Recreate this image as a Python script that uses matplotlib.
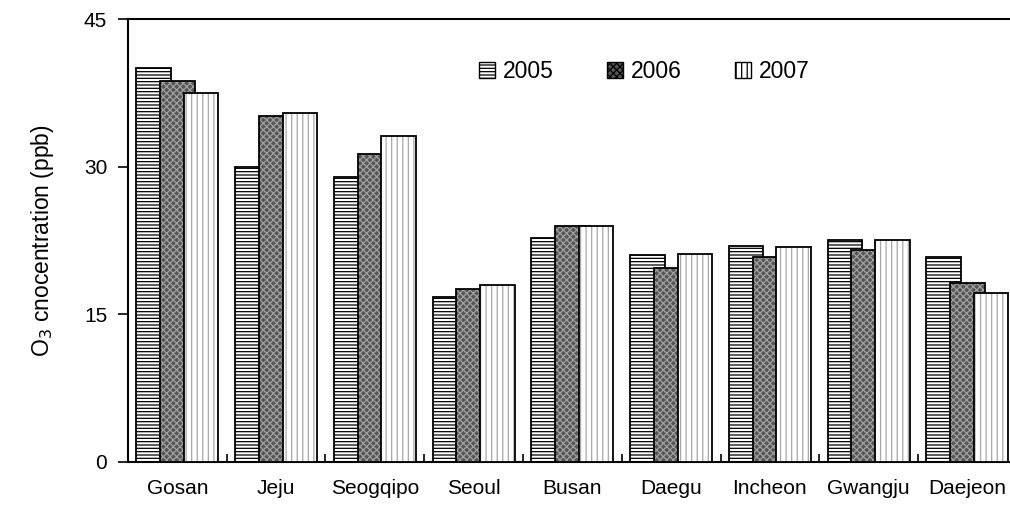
import numpy as np
import matplotlib
matplotlib.use("Agg")
from matplotlib import pyplot as plt

# site names and mean O3 per year (ppb)
sites = ["Gosan", "Jeju", "Seogqipo", "Seoul", "Busan", "Daegu", "Incheon", "Gwangju", "Daejeon"]
years = ["2005", "2006", "2007"]
o3_2005 = [40.0, 30.0, 28.9, 16.8, 22.8, 21.0, 21.9, 22.5, 20.8]
o3_2006 = [38.7, 35.1, 31.3, 17.6, 24.0, 19.7, 20.8, 21.5, 18.2]
o3_2007 = [37.5, 35.5, 33.1, 18.0, 24.0, 21.1, 21.8, 22.6, 17.2]

plt.rcParams['font.family'] = ['Liberation Sans', 'DejaVu Sans']
plt.rcParams['hatch.linewidth'] = 0.9

fig = plt.figure(figsize=(10.1, 5.07), dpi=100)
ax = fig.add_axes([0.1267, 0.0888, 0.880, 0.8737])

x = np.arange(len(sites))
w = 0.35
off = 0.24

# fill style per year: face, hatch, hatch colour
styles = [
    ("white", "-----", "black"),
    ("#555555", "xxxxx", "#a0a0a0"),
    ("white", "|||", "#a8a8a8"),
]

handles = []
for i, (vals, (fc, hatch, hc)) in enumerate(zip([o3_2005, o3_2006, o3_2007], styles)):
    pos = x + (i - 1) * off
    ax.bar(pos, vals, w, color=fc, hatch=hatch, edgecolor=hc, linewidth=0, zorder=2 + i)
    ax.bar(pos, vals, w, fill=False, edgecolor="black", linewidth=1.3, zorder=2 + i)
    handles.append(plt.Rectangle((0, 0), 1, 1, facecolor=fc, hatch=hatch,
                                 edgecolor="black", linewidth=1.0))

ax.set_xlim(-0.5, len(sites) - 0.5)
ax.set_ylim(0, 45)
ax.set_yticks([0, 15, 30, 45])
ax.tick_params(axis="y", direction="out", length=7, width=1.2, labelsize=15, pad=8)

ax.set_xticks(x)
ax.set_xticklabels(sites)
ax.tick_params(axis="x", length=0, labelsize=15, pad=12)
ax.set_xticks(np.arange(len(sites) + 1) - 0.5, minor=True)
ax.tick_params(axis="x", which="minor", direction="in", length=6, width=1.2)

for s in ["left", "bottom", "top"]:
    ax.spines[s].set_linewidth(1.5)
ax.spines["right"].set_visible(False)

ax.set_ylabel(r"O$_3$ cnocentration (ppb)", fontsize=16.5, labelpad=20)

ax.legend(handles, years, loc="upper left", bbox_to_anchor=(0.372, 0.955), ncol=3,
          frameon=False, fontsize=16.5, handlelength=0.7, handleheight=0.7,
          handletextpad=0.35, columnspacing=2.3)

fig.savefig("out.png", dpi=100)
